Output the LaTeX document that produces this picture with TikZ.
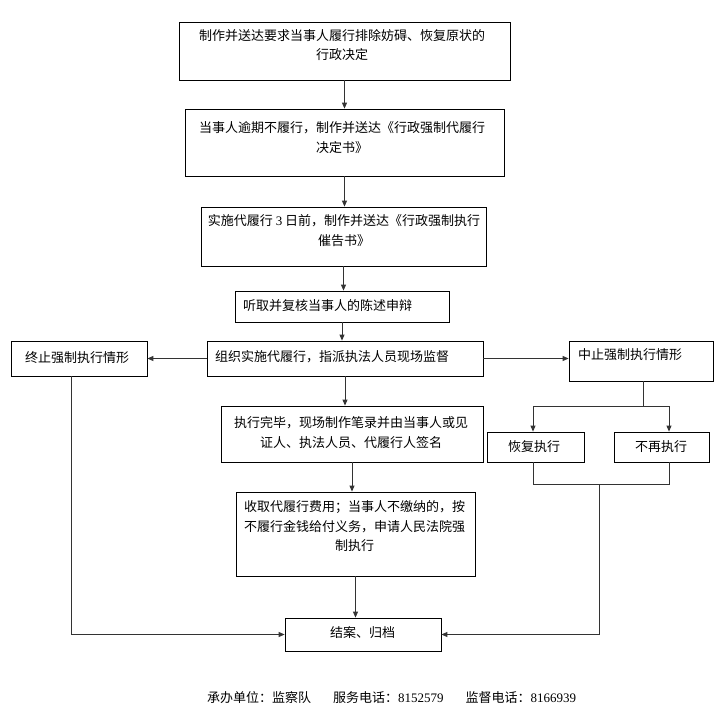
\documentclass[tikz,border=0pt]{standalone}
\usepackage{fontspec}
\setmainfont{Noto Sans CJK SC}
\newfontfamily\lat{Liberation Serif}
\usetikzlibrary{arrows.meta,fit}
\tikzset{
  box/.style={draw=black, line width=0.8pt, inner sep=0pt, fit={#1}},
  txt/.style={inner sep=0pt, font=\fontsize{13}{19.5}\selectfont, align=center},
  ltxt/.style={inner sep=0pt, font=\fontsize{13}{19.5}\selectfont, anchor=west},
  conn/.style={draw=black!80, line width=0.9pt},
  arr/.style={conn, -{Triangle[length=6pt,width=5pt]}}
}
\begin{document}
\begin{tikzpicture}[x=1pt,y=-1pt]
\path[use as bounding box] (0,0) rectangle (725,723);
% boxes
\node[box={(179,22)(510,80)}] (b1) {};
\node[box={(185,109)(504,176)}] (b2) {};
\node[box={(201,207)(486,266)}] (b3) {};
\node[box={(235,291)(449,322)}] (b4) {};
\node[box={(207,341)(483,376)}] (b5) {};
\node[box={(11,341)(147,376)}] (b6) {};
\node[box={(569,341)(713,381)}] (b7) {};
\node[box={(221,406)(483,462)}] (b8) {};
\node[box={(487,432)(584,462)}] (b9) {};
\node[box={(614,432)(709,462)}] (b10) {};
\node[box={(236,492)(475,576)}] (b11) {};
\node[box={(285,618)(441,651)}] (b12) {};
% texts
\node[txt] (t1) at (342,45) {制作并送达要求当事人履行排除妨碍、恢复原状的\\行政决定};
\node[txt] (t2) at (342,137.5) {当事人逾期不履行，制作并送达《行政强制代履行\\决定书》};
\node[txt] (t3) at (344,230.5) {实施代履行 {\lat 3} 日前，制作并送达《行政强制执行\\催告书》};
\node[ltxt] (t4) at (243,306) {听取并复核当事人的陈述申辩};
\node[ltxt] (t5) at (215,357) {组织实施代履行，指派执法人员现场监督};
\node[ltxt] (t6) at (25,358) {终止强制执行情形};
\node[ltxt] (t7) at (578,355) {中止强制执行情形};
\node[txt] (t8) at (351,432.5) {执行完毕，现场制作笔录并由当事人或见\\证人、执法人员、代履行人签名};
\node[txt] (t9) at (534,447) {恢复执行};
\node[txt] (t10) at (661,447) {不再执行};
\node[txt] (t11) at (354.5,526.5) {收取代履行费用；当事人不缴纳的，按\\不履行金钱给付义务，申请人民法院强\\制执行};
\node[txt] (t12) at (362.5,633) {结案、归档};
\node[ltxt] (foot) at (207,698) {承办单位：监察队\hspace{22pt}服务电话：{\lat 8152579}\hspace{22pt}监督电话：{\lat 8166939}};
% connectors
\draw[arr] (b1.south) -- (b1.south |- b2.north);
\draw[arr] (b2.south) -- (b2.south |- b3.north);
\draw[arr] (b3.south) -- (b3.south |- b4.north);
\draw[arr] (b4.south) -- (b4.south |- b5.north);
\draw[arr] (b5.west) -- (b5.west -| b6.east);
\draw[arr] (b5.east) -- (b5.east -| b7.west);
\draw[arr] (b5.south) -- (b5.south |- b8.north);
\draw[arr] (b8.south) -- (b8.south |- b11.north);
\draw[arr] (b11.south) -- (b11.south |- b12.north);
% left branch
\coordinate (c1) at (71,634);
\draw[arr] (b6.south -| c1) -- (c1 |- b12.west) -- (b12.west);
% right branch
\coordinate (j1) at (643,406);
\coordinate (j2) at (533,406);
\coordinate (j3) at (669,406);
\draw[conn] (b7.south -| j1) -- (j1);
\draw[conn] (j2) -- (j3);
\draw[arr] (j2) -- (j2 |- b9.north);
\draw[arr] (j3) -- (j3 |- b10.north);
\coordinate (k1) at (599,484);
\coordinate (k2) at (533,484);
\coordinate (k3) at (669,484);
\draw[conn] (k2 |- b9.south) -- (k2) -- (k3) -- (k3 |- b10.south);
\draw[arr] (k1) -- (k1 |- b12.east) -- (b12.east);
\end{tikzpicture}
\end{document}
